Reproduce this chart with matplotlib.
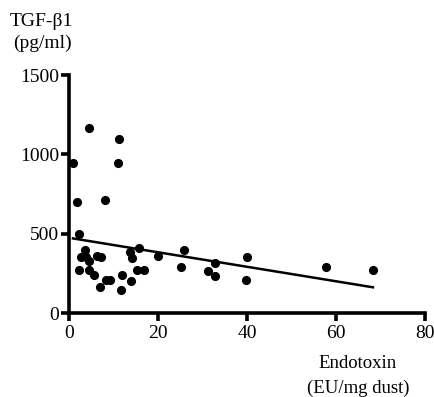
import matplotlib
matplotlib.use("Agg")
import matplotlib.pyplot as plt
import numpy as np

plt.rcParams["font.family"] = ["Liberation Serif", "DejaVu Serif"]

# endotoxin (EU/mg dust) vs TGF-beta1 (pg/ml)
endotoxin = [0.9, 4.4, 11.2, 11.1, 1.7, 8.1, 2.3, 3.5, 2.8, 3.9, 4.4, 2.3, 4.4,
             5.7, 6.4, 7.2, 7.0, 8.4, 9.3, 11.9, 11.7, 13.6, 14.2, 14.0, 15.7,
             15.2, 16.8, 19.9, 25.1, 25.9, 31.2, 32.7, 32.7, 39.9, 39.7, 57.8, 68.3]
tgf_b1 = [947, 1165, 1097, 943, 700, 715, 496, 399, 356, 352, 327, 274, 268,
          240, 361, 352, 162, 211, 211, 242, 147, 384, 348, 200, 409,
          268, 268, 358, 289, 394, 263, 314, 232, 352, 211, 289, 268]

fit_x = [0.9, 68.3]
fit_y = [470, 162]

x_ticks = [0, 20, 40, 60, 80]
y_ticks = [0, 500, 1000, 1500]

fig = plt.figure(figsize=(4.35, 3.97), dpi=100)
ax = fig.add_axes([69 / 435, 1 - 313 / 397, (425 - 69) / 435, (313 - 75) / 397])

ax.scatter(endotoxin, tgf_b1, s=31, color="black", zorder=3, clip_on=False)
ax.plot(fit_x, fit_y, color="black", lw=1.8)

ax.set_xlim(0, 80)
ax.set_ylim(0, 1500)
ax.set_xticks(x_ticks)
ax.set_yticks(y_ticks)
for s in ["top", "right"]:
    ax.spines[s].set_visible(False)
for s in ["left", "bottom"]:
    ax.spines[s].set_linewidth(2.6)
ax.tick_params(width=2.6, length=6, labelsize=14)
ax.tick_params(axis="y", pad=1)
ax.tick_params(axis="x", pad=3)

fig.text(41 / 435, 1 - 22 / 397, "TGF-β1", ha="center", va="center", fontsize=14)
fig.text(42 / 435, 1 - 43 / 397, "(pg/ml)", ha="center", va="center", fontsize=14)
fig.text(358 / 435, 1 - 364 / 397, "Endotoxin", ha="center", va="center", fontsize=13.5)
fig.text(358 / 435, 1 - 388 / 397, "(EU/mg dust)", ha="center", va="center", fontsize=13.5)

fig.savefig("out.png", dpi=100)
